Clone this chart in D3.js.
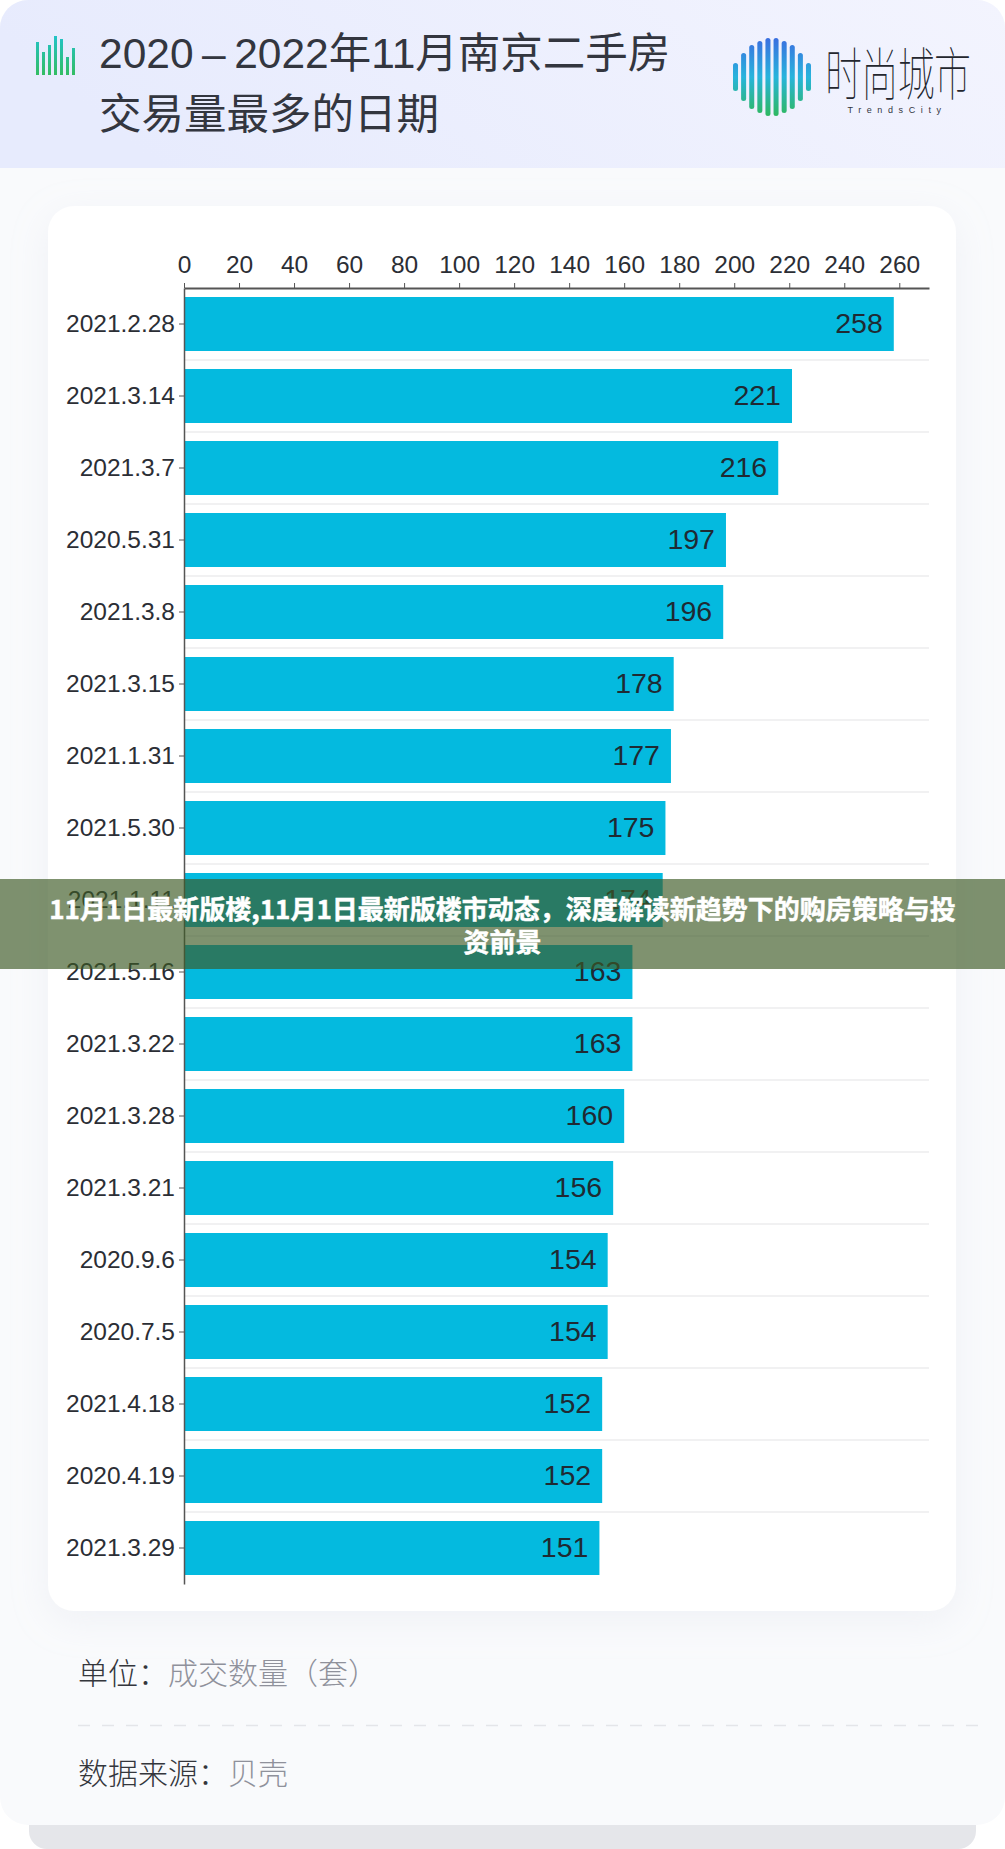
<!DOCTYPE html>
<html>
<head>
<meta charset="utf-8">
<style>
html, body { margin: 0; padding: 0; background: #fff; }
svg { display: block; }
text { font-family: "Liberation Sans", "Noto Sans CJK SC", sans-serif; }
</style>
</head>
<body>
<script src="https://d3js.org/d3.v7.min.js"></script>
<svg id="chart" width="1005" height="1849"></svg>
<script>
var dates = ["2021.2.28","2021.3.14","2021.3.7","2020.5.31","2021.3.8","2021.3.15","2021.1.31","2021.5.30","2021.1.11",
    "2021.5.16","2021.3.22","2021.3.28","2021.3.21","2020.9.6","2020.7.5","2021.4.18","2020.4.19","2021.3.29"];
var counts = [258,221,216,197,196,178,177,175,174,163,163,160,156,154,154,152,152,151];
var xTicks = [0,20,40,60,80,100,120,140,160,180,200,220,240,260];
var titleLines = ["2020\u2009–\u20092022年11月南京二手房","交易量最多的日期"];
var bannerLines = ["11月1日最新版楼,11月1日最新版楼市动态\uFF0C深度解读新趋势下的购房策略与投","资前景"];
// logo stripes, heights
var iconBars = [33,23,30,39,36,18,27];
var logoStripes = [14,24,32,36,39,39,36,32,24,14];

var svg = d3.select("#chart");
var defs = svg.append("defs");

var headGrad = defs.append("linearGradient").attr("id","headGrad").attr("x1",0).attr("x2",1).attr("y1",0.2).attr("y2",0);
headGrad.append("stop").attr("offset","0").attr("stop-color","#e7ebfd");
headGrad.append("stop").attr("offset","1").attr("stop-color","#f3f4fe");

var iconGrad = defs.append("linearGradient").attr("id","iconGrad").attr("gradientUnits","userSpaceOnUse")
    .attr("x1",0).attr("x2",0).attr("y1",36).attr("y2",75);
iconGrad.append("stop").attr("offset","0").attr("stop-color","#22c3c8");
iconGrad.append("stop").attr("offset","1").attr("stop-color","#33bd62");

var logoGrad = defs.append("linearGradient").attr("id","logoGrad").attr("gradientUnits","userSpaceOnUse")
    .attr("x1",0).attr("x2",0).attr("y1",38).attr("y2",116);
logoGrad.append("stop").attr("offset","0").attr("stop-color","#3b6fe0");
logoGrad.append("stop").attr("offset","0.5").attr("stop-color","#27b4dc");
logoGrad.append("stop").attr("offset","1").attr("stop-color","#2fb860");

var shadow = defs.append("filter").attr("id","cardShadow").attr("x","-10%").attr("y","-10%").attr("width","120%").attr("height","120%");
shadow.append("feDropShadow").attr("dx",0).attr("dy",10).attr("stdDeviation",18).attr("flood-color","#c9cfdd").attr("flood-opacity",0.2);

// page background layers
svg.append("rect").attr("x",29).attr("y",1790).attr("width",947).attr("height",59).attr("rx",18).attr("fill","#e5e6ea");
svg.append("rect").attr("x",0).attr("y",0).attr("width",1005).attr("height",1825).attr("rx",28).attr("fill","#f9fafc");
svg.append("path").attr("d","M0,168V28A28,28 0 0 1 28,0H977A28,28 0 0 1 1005,28V168Z").attr("fill","url(#headGrad)");

// header icon
var iconX = d3.scaleBand().domain(d3.range(iconBars.length)).range([36,75]).paddingInner(0.5);
svg.append("g").selectAll("rect").data(iconBars).enter().append("rect")
    .attr("x",(d,i) => iconX(i))
    .attr("y",d => 75-d)
    .attr("width",iconX.bandwidth())
    .attr("height",d => d)
    .attr("fill","url(#iconGrad)");

svg.append("g").selectAll("text").data(titleLines).enter().append("text")
    .attr("x",99)
    .attr("y",(d,i) => 68+i*61)
    .attr("font-size",42.5)
    .attr("fill","#33363f")
    .text(d => d);

// right logo
var logoX = d3.scaleBand().domain(d3.range(logoStripes.length)).range([733,811]).paddingInner(0.38);
svg.append("g").selectAll("rect").data(logoStripes).enter().append("rect")
    .attr("x",(d,i) => logoX(i))
    .attr("y",d => 77-d)
    .attr("width",logoX.bandwidth())
    .attr("height",d => 2*d)
    .attr("rx",logoX.bandwidth()/2)
    .attr("fill","url(#logoGrad)");
svg.append("text").attr("transform","translate(898,95) scale(1,1.55)").attr("text-anchor","middle")
    .attr("font-size",37).attr("font-weight",100).attr("fill","#23262e")
    .attr("textLength",146).text("时尚城市");
svg.append("text").attr("x",897).attr("y",113).attr("text-anchor","middle")
    .attr("font-size",9).attr("letter-spacing",5.6).attr("fill","#33363f").text("TrendsCity");

// white card
svg.append("rect").attr("x",48).attr("y",206).attr("width",908).attr("height",1405).attr("rx",26)
    .attr("fill","#fff").attr("filter","url(#cardShadow)");

// scales
var x = d3.scaleLinear().domain([0,270.8]).range([184,929]);
var y = d3.scaleBand().domain(dates).range([288,1584]).paddingInner(0.25).paddingOuter(0.125);

// row separators
svg.append("g").selectAll("line").data(dates.slice(1)).enter().append("line")
    .attr("x1",184).attr("x2",929)
    .attr("y1",d => y(d)-9).attr("y2",d => y(d)-9)
    .attr("stroke","#e3e4e6").attr("stroke-width",1.2);

// bars
svg.append("g").selectAll("rect").data(counts).enter().append("rect")
    .attr("x",x(0))
    .attr("y",(d,i) => y(dates[i]))
    .attr("width",d => x(d)-x(0))
    .attr("height",y.bandwidth())
    .attr("fill","#04badf");

svg.append("g").selectAll("text").data(counts).enter().append("text")
    .attr("x",d => x(d)-11)
    .attr("y",(d,i) => y(dates[i])+y.bandwidth()/2)
    .attr("dy","0.33em")
    .attr("text-anchor","end")
    .attr("font-size",28.5)
    .attr("fill","#1f2a33")
    .text(d => d);

// axes
var xAxis = svg.append("g").attr("transform","translate(0,288)")
    .call(d3.axisTop(x).tickValues(xTicks).tickSize(5).tickSizeOuter(0).tickPadding(10));
var yAxis = svg.append("g").attr("transform","translate(184,0)")
    .call(d3.axisLeft(y).tickSize(5).tickSizeOuter(0).tickPadding(4));
xAxis.selectAll("text").attr("font-size",24.5).attr("fill","#2b2e35");
yAxis.selectAll("text").attr("font-size",24.5).attr("fill","#2b2e35");
xAxis.selectAll(".tick line").attr("stroke","#555");
yAxis.selectAll(".tick line").attr("stroke","#555");
xAxis.select(".domain").attr("stroke","#555").attr("stroke-width",2);
yAxis.select(".domain").attr("stroke","#555").attr("stroke-width",1.5);

// footer notes
var unitRow = svg.append("text").attr("x",78).attr("y",1684).attr("font-size",30).attr("font-weight",300);
unitRow.append("tspan").attr("fill","#34363c").text("单位\uFF1A");
unitRow.append("tspan").attr("fill","#8f919b").text("成交数量\uFF08套\uFF09");
svg.append("line").attr("x1",78).attr("x2",985).attr("y1",1725.5).attr("y2",1725.5)
    .attr("stroke","#e4e5e9").attr("stroke-width",1.5).attr("stroke-dasharray","12 12");
var sourceRow = svg.append("text").attr("x",78).attr("y",1784).attr("font-size",30).attr("font-weight",300);
sourceRow.append("tspan").attr("fill","#34363c").text("数据来源\uFF1A");
sourceRow.append("tspan").attr("fill","#8f919b").text("贝壳");

// banner over the chart
svg.append("rect").attr("x",0).attr("y",879).attr("width",1005).attr("height",90)
    .attr("fill","#3c5a24").attr("fill-opacity",0.66);
svg.append("g").selectAll("text").data(bannerLines).enter().append("text")
    .attr("x",502.5)
    .attr("y",(d,i) => 919+i*33)
    .attr("text-anchor","middle")
    .attr("font-size",26)
    .attr("font-weight",700)
    .attr("fill","#fff")
    .attr("stroke","#fff")
    .attr("stroke-width",0.5)
    .style("font-family",'"Noto Sans CJK SC", sans-serif')
    .text(d => d);
</script>
</body>
</html>
